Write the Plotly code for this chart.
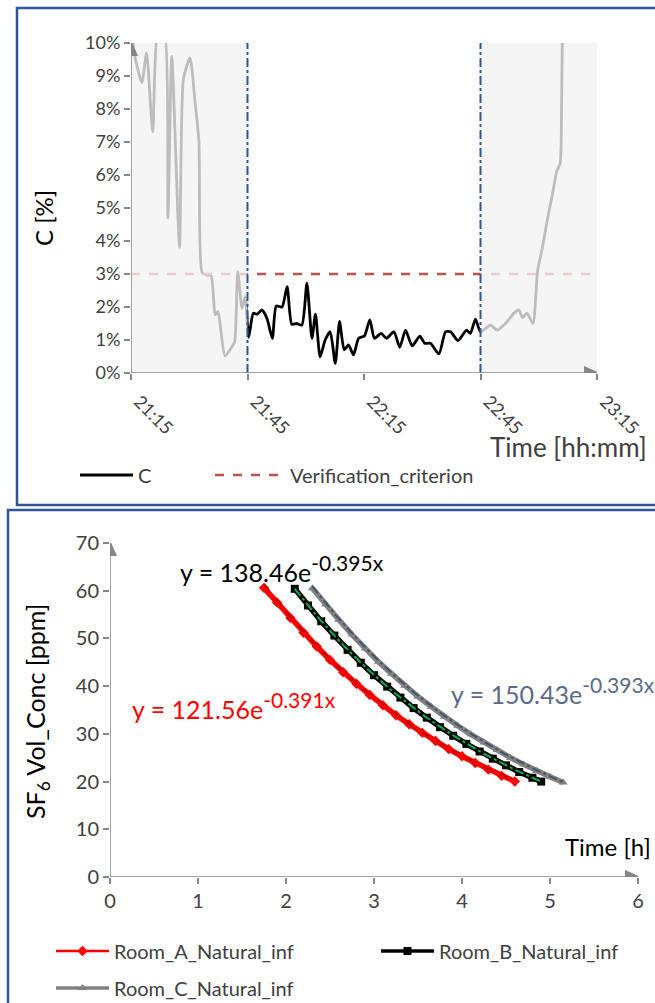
import numpy as np
import plotly.graph_objects as go

# ---------------- data: top chart (C over time) ----------------
day = "2021-01-01 "
c_times = ["21:15:00", "21:16:00", "21:17:48", "21:19:00", "21:20:36", "21:22:00", "21:23:30",
           "21:24:30", "21:25:30", "21:27:30", "21:28:30", "21:30:12", "21:31:30", "21:32:30",
           "21:33:18", "21:34:30", "21:35:36", "21:36:42", "21:37:24", "21:39:12", "21:41:00",
           "21:41:42", "21:42:30", "21:43:36", "21:44:24", "21:45:18", "21:46:30", "21:47:30",
           "21:48:42", "21:50:00", "21:51:24", "21:52:24", "21:53:54", "21:55:12", "21:56:24",
           "21:57:36", "21:59:00", "22:00:18", "22:01:36", "22:02:30", "22:03:42", "22:05:00",
           "22:06:18", "22:07:36", "22:08:42", "22:09:54", "22:11:00", "22:12:18", "22:13:36",
           "22:15:06", "22:16:30", "22:17:42", "22:19:24", "22:20:48", "22:22:42", "22:24:12",
           "22:25:42", "22:27:24", "22:29:24", "22:30:36", "22:32:06", "22:34:18", "22:36:00",
           "22:37:18", "22:39:12", "22:41:24", "22:42:24", "22:43:42", "22:45:00", "22:47:36",
           "22:49:18", "22:51:54", "22:53:36", "22:54:54", "22:55:48", "22:57:00", "22:58:30",
           "22:59:42", "23:00:54", "23:02:36", "23:03:30", "23:04:36", "23:05:30", "23:05:48",
           "23:06:06"]
c_values = [10.6, 9.6, 8.8, 9.7, 7.3, 10.4, 10.4,
            4.7, 9.6, 3.8, 8.9, 9.55, 8.2, 7.0,
            3.05, 2.97, 2.95, 1.76, 1.86, 0.52, 0.80,
            0.95, 3.07, 1.96, 2.31, 1.08, 1.81, 1.78,
            1.91, 1.66, 1.05, 2.03, 2.0, 2.62, 1.48,
            1.50, 1.45, 2.72, 1.05, 1.78, 0.49, 1.0,
            1.25, 0.29, 1.56, 0.70, 0.85, 0.55, 1.05,
            1.12, 1.61, 1.05, 1.20, 1.05, 1.25, 0.78,
            1.30, 0.82, 1.12, 0.90, 0.90, 0.58, 1.25,
            1.25, 0.98, 1.30, 1.20, 1.63, 1.25, 1.45,
            1.30, 1.56, 1.81, 1.91, 1.68, 1.81, 1.50,
            3.1, 3.78, 4.89, 5.39, 6.1, 6.35, 7.2,
            10.5]
crit_times = ["21:15:00", "23:15:00"]
crit_values = [3, 3]
window = ["21:45:00", "22:45:00"]          # verification window
axis_span = ["21:15:00", "23:15:00"]

# ---------------- data: bottom chart (SF6 decay) ----------------
room_a_t = [1.75, 1.90, 2.05, 2.20, 2.35, 2.50, 2.65, 2.80, 2.95, 3.10,
            3.25, 3.40, 3.55, 3.70, 3.85, 4.00, 4.15, 4.30, 4.45, 4.60]
room_a_c = [60.6, 57.5, 54.3, 51.2, 48.3, 45.5, 42.9, 40.5, 38.2, 36.0,
            33.9, 32.0, 30.2, 28.5, 26.8, 25.3, 23.9, 22.5, 21.2, 20.0]
room_b_t = [2.10, 2.25, 2.40, 2.55, 2.70, 2.85, 3.00, 3.15, 3.30, 3.45,
            3.60, 3.75, 3.90, 4.05, 4.20, 4.35, 4.50, 4.65, 4.80, 4.90]
room_b_c = [60.4, 56.9, 53.6, 50.6, 47.6, 44.9, 42.3, 39.9, 37.6, 35.4,
            33.4, 31.4, 29.6, 27.9, 26.3, 24.8, 23.4, 22.0, 20.8, 20.0]
room_c_t = [2.30, 2.45, 2.60, 2.75, 2.90, 3.05, 3.20, 3.35, 3.50, 3.65,
            3.80, 3.95, 4.10, 4.25, 4.40, 4.55, 4.70, 4.85, 5.00, 5.15]
room_c_c = [60.5, 57.1, 53.9, 50.8, 47.9, 45.1, 42.6, 40.1, 37.8, 35.7,
            33.6, 31.7, 29.9, 28.2, 26.6, 25.0, 23.6, 22.2, 21.0, 19.8]
room_names = ["Room_A_Natural_inf", "Room_B_Natural_inf", "Room_C_Natural_inf"]
fit_a = [121.56, 138.46, 150.43]
fit_b = [-0.391, -0.395, -0.393]

FONT = "Lato"
TXT = "#404040"
AX = "#868686"
W, H = 655, 1003


def px(x):
    return x / W


def py(y):
    return 1 - y / H


fig = go.Figure()

# top chart traces
fig.add_trace(go.Scatter(x=[day + t for t in c_times], y=c_values, mode="lines", name="C",
                         line=dict(color="black", width=2.8, shape="spline", smoothing=0.6),
                         xaxis="x", yaxis="y", legend="legend"))
fig.add_trace(go.Scatter(x=[day + t for t in crit_times], y=crit_values, mode="lines",
                         name="Verification_criterion",
                         line=dict(color="#c0504d", width=2.5, dash="dash"),
                         xaxis="x", yaxis="y", legend="legend2"))

# bottom chart traces
series = [(room_a_t, room_a_c, "#ff0000", "diamond", "#c00000", "dash", "legend3", 2.5),
          (room_b_t, room_b_c, "#000000", "square", "#00b050", "dashdot", "legend4", 3.5),
          (room_c_t, room_c_c, "#808080", "triangle-up", "#44546a", "dashdot", "legend5", 3.5)]
for i, (tt, cc, col, sym, tcol, tdash, lg, lw) in enumerate(series):
    fig.add_trace(go.Scatter(x=tt, y=cc, mode="lines+markers", name=room_names[i],
                             line=dict(color=col, width=5.5),
                             marker=dict(symbol=sym, size=8, color=col),
                             xaxis="x2", yaxis="y2", showlegend=False))
    # legend entry (thinner line sample, as in the reference legend)
    fig.add_trace(go.Scatter(x=[None], y=[None], mode="lines+markers", name=room_names[i],
                             line=dict(color=col, width=lw),
                             marker=dict(symbol=sym, size=8, color=col),
                             xaxis="x2", yaxis="y2", legend=lg))
for i, (tt, cc, col, sym, tcol, tdash, lg, lw) in enumerate(series):
    xs = np.linspace(tt[0], tt[-1], 60)
    fig.add_trace(go.Scatter(x=xs, y=fit_a[i] * np.exp(fit_b[i] * xs), mode="lines",
                             line=dict(color=tcol, width=2, dash=tdash), showlegend=False,
                             hoverinfo="skip", xaxis="x2", yaxis="y2"))

shapes = []
# frames
shapes.append(dict(type="rect", xref="paper", yref="paper", x0=px(17), x1=1.02, y0=py(8), y1=py(505),
                   line=dict(color="#2f5597", width=2.5), fillcolor="rgba(0,0,0,0)"))
shapes.append(dict(type="rect", xref="paper", yref="paper", x0=px(8), x1=1.02, y0=py(510), y1=-0.02,
                   line=dict(color="#2f5597", width=2.5), fillcolor="rgba(0,0,0,0)"))
# shaded (outside verification window) overlays
for a, b in [(axis_span[0], window[0]), (window[1], axis_span[1])]:
    shapes.append(dict(type="rect", xref="x", yref="y", x0=day + a, x1=day + b, y0=0, y1=10,
                       layer="above", line=dict(width=0), fillcolor="rgba(242,242,242,0.78)"))
# window boundaries
for t in window:
    shapes.append(dict(type="line", xref="x", yref="y", x0=day + t, x1=day + t, y0=0, y1=10,
                       layer="above", line=dict(color="#2f5597", width=2, dash="dashdot")))

# axis lines with arrow heads (drawn as shapes, above the shading)
UP = "M-7,-13 L7,-13 L0,3 Z"
RIGHT = "M-13,-7 L-13,7 L3,0 Z"
axes_lines = [("x", "y", day + axis_span[0], day + axis_span[0], 0, 10),
              ("x", "y", day + axis_span[0], day + axis_span[1], 0, 0),
              ("x2", "y2", 0, 0, 0, 70),
              ("x2", "y2", 0, 6, 0, 0)]
for xr, yr, x0, x1, y0, y1 in axes_lines:
    shapes.append(dict(type="line", xref=xr, yref=yr, x0=x0, x1=x1, y0=y0, y1=y1, layer="above",
                       line=dict(color=AX, width=1.5)))
for xr, yr, xa, ya, pth in [("x", "y", day + axis_span[0], 10, UP),
                            ("x", "y", day + axis_span[1], 0, RIGHT),
                            ("x2", "y2", 0, 70, UP),
                            ("x2", "y2", 6, 0, RIGHT)]:
    shapes.append(dict(type="path", xref=xr, yref=yr, xsizemode="pixel", ysizemode="pixel",
                       xanchor=xa, yanchor=ya, path=pth, layer="above",
                       fillcolor=AX, line=dict(width=0)))

ann = []
mid = dict(xref="paper", yref="paper", showarrow=False, yanchor="middle")
# axis titles
ann.append(dict(text="C [%]", x=px(43), y=py(218), textangle=-90, xanchor="center",
                font=dict(size=24, color="black", family=FONT), **mid))
ann.append(dict(text="Time [hh:mm]", x=px(649), y=py(447), xanchor="right",
                font=dict(size=26, color=TXT, family=FONT), **mid))
ann.append(dict(text="SF<sub>6</sub> Vol_Conc [ppm]", x=px(37), y=py(712), textangle=-90,
                xanchor="center", font=dict(size=25, color="black", family=FONT), **mid))
ann.append(dict(text="Time [h]", x=px(653), y=py(846), xanchor="right",
                font=dict(size=24, color="black", family=FONT), **mid))
# trendline equations
eq_pos = [(130, 705, "#ff0000"), (178, 568, "black"), (449, 690, "#5a6a85")]
for i, (ex, ey, ecol) in enumerate(eq_pos):
    ann.append(dict(text=f"y = {fit_a[i]:.2f}e<sup><span style='font-size:21px'>{fit_b[i]:.3f}x</span></sup>",
                    x=px(ex), y=py(ey), xanchor="left",
                    font=dict(size=25, color=ecol, family=FONT), **mid))

tickfont = dict(size=18, color=TXT, family=FONT)


def leg(x_left, yc, iw=53):
    return dict(orientation="v", x=px(x_left), y=py(yc), xanchor="left", yanchor="middle",
                bgcolor="rgba(0,0,0,0)", itemwidth=iw,
                font=dict(size=20, color=TXT, family=FONT))


fig.update_layout(
    width=W, height=H, margin=dict(l=0, r=0, t=0, b=0, autoexpand=False),
    paper_bgcolor="white", plot_bgcolor="white",
    font=dict(family=FONT, color=TXT),
    shapes=shapes, annotations=ann,
    xaxis=dict(domain=[px(131), px(597)], anchor="y", type="date",
               range=[day + axis_span[0], day + axis_span[1]], tick0=day + axis_span[0], dtick=1800000,
               tickformat="%H:%M", tickangle=45, ticks="outside", ticklen=6, tickcolor=AX, tickwidth=1.5,
               ticklabelshift=8, ticklabelstandoff=4, ticklabeloverflow="allow",
               showline=False, showgrid=False, zeroline=False, tickfont=tickfont, automargin=False),
    yaxis=dict(domain=[py(373), py(43)], anchor="x", range=[0, 10], dtick=1, ticksuffix="%",
               ticks="outside", ticklen=6, tickcolor=AX, tickwidth=1.5, showline=False, showgrid=False,
               zeroline=False, tickfont=tickfont, automargin=False),
    xaxis2=dict(domain=[px(110), px(638)], anchor="y2", range=[0, 6], dtick=1, ticks="outside",
                ticklen=6, tickcolor=AX, tickwidth=1.5, showline=False, showgrid=False, zeroline=False,
                tickfont=dict(size=20, color=TXT, family=FONT), automargin=False,
                ticklabeloverflow="allow"),
    yaxis2=dict(domain=[py(877), py(543)], anchor="x2", range=[0, 70], dtick=10, ticks="outside",
                ticklen=6, tickcolor=AX, tickwidth=1.5, showline=False, showgrid=False, zeroline=False,
                tickfont=dict(size=20, color=TXT, family=FONT), automargin=False),
    legend=leg(75, 475),
    legend2=leg(210, 475, 70),
    legend3=leg(51, 951),
    legend4=leg(376, 951),
    legend5=leg(51, 988),
)

fig.write_html("out.html", config={"displayModeBar": False},
               post_script="document.body.style.margin='0px';")
